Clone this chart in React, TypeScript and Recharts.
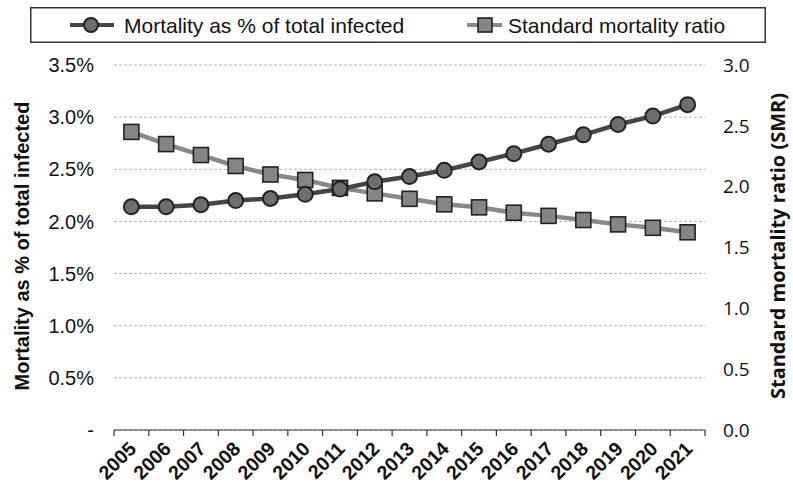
import React from 'react';
import { LineChart, Line, XAxis, YAxis, CartesianGrid, Legend } from 'recharts';

const years = [2005, 2006, 2007, 2008, 2009, 2010, 2011, 2012, 2013, 2014, 2015, 2016, 2017, 2018, 2019, 2020, 2021];
const mortalityPct = [2.14, 2.14, 2.16, 2.2, 2.22, 2.26, 2.31, 2.38, 2.43, 2.49, 2.57, 2.65, 2.74, 2.83, 2.93, 3.01, 3.12];
const smrValues = [2.45, 2.35, 2.26, 2.17, 2.1, 2.055, 1.99, 1.945, 1.9, 1.855, 1.83, 1.786, 1.76, 1.726, 1.69, 1.662, 1.625];
const leftTicks = [0, 0.5, 1, 1.5, 2, 2.5, 3, 3.5];
const rightTicks = [0, 0.5, 1, 1.5, 2, 2.5, 3];
const mortalityName = 'Mortality as % of total infected';
const smrName = 'Standard mortality ratio';
const leftTitle = 'Mortality as % of total infected';
const rightTitle = 'Standard mortality ratio (SMR)';

const data = years.map((year, i) => ({ year, mortality: mortalityPct[i], smr: smrValues[i] }));
const xTicks = [
  ...years,
  ...years.map((y) => y - 0.5),
  years[years.length - 1] + 0.5,
].sort((a, b) => a - b);

const ARIAL = '"Liberation Sans", Arial, sans-serif';
const OPEN = '"Open Sans", "Liberation Sans", sans-serif';

const XTick = (props: any) => {
  const { x, y, payload } = props;
  const v = payload.value;
  if (!Number.isInteger(v)) {
    return <line x1={x} x2={x} y1={y} y2={y + 6} stroke="#333" strokeWidth={1.2} />;
  }
  return (
    <text
      x={0}
      y={0}
      transform={`translate(${x + 6},${y + 20}) rotate(-45)`}
      textAnchor="end"
      fontFamily={ARIAL}
      fontWeight="bold"
      fontSize={19.5}
      fill="#111"
    >
      {v}
    </text>
  );
};

const CircleDot = (props: any) => {
  const { cx, cy, index } = props;
  if (cx == null || cy == null) return null;
  return <circle key={`c-${index}`} cx={cx} cy={cy} r={7.5} fill="#6e6e6e" stroke="#222" strokeWidth={2} />;
};

const SquareDot = (props: any) => {
  const { cx, cy, index } = props;
  if (cx == null || cy == null) return null;
  return (
    <rect key={`s-${index}`} x={cx - 7.5} y={cy - 7.5} width={15} height={15} fill="#858585" stroke="#222" strokeWidth={1.6} />
  );
};

const LeftTitle = () => (
  <text
    x={22}
    y={246}
    transform="rotate(-90 22 246)"
    textAnchor="middle"
    dominantBaseline="central"
    fontFamily={ARIAL}
    fontWeight="bold"
    fontSize={20}
    fill="#111"
  >
    {leftTitle}
  </text>
);

const RightTitle = () => (
  <text
    x={777}
    y={246}
    transform="rotate(-90 777 246)"
    textAnchor="middle"
    dominantBaseline="central"
    fontFamily={OPEN}
    fontWeight="bold"
    fontSize={20}
    fill="#111"
  >
    {rightTitle}
  </text>
);

const renderLegend = () => (
  <svg width={736} height={36} style={{ display: 'block' }}>
    <rect x={0.75} y={0.75} width={734.5} height={34.5} fill="#fff" stroke="#333" strokeWidth={1.5} />
    <line x1={40} x2={84} y1={18} y2={18} stroke="#444" strokeWidth={4} />
    <circle cx={61} cy={18} r={7} fill="#6e6e6e" stroke="#222" strokeWidth={2} />
    <text x={94} y={26} fontFamily={ARIAL} fontSize={21} fill="#111">
      {mortalityName}
    </text>
    <line x1={437} x2={472} y1={18} y2={18} stroke="#888" strokeWidth={4} />
    <rect x={448} y={11} width={14} height={14} fill="#858585" stroke="#222" strokeWidth={1.6} />
    <text x={478} y={26} fontFamily={ARIAL} fontSize={21} fill="#111">
      {smrName}
    </text>
  </svg>
);

export default function App() {
  return (
    <div style={{ position: 'absolute', left: 0, top: 0, width: 793, height: 500, background: '#fff' }}>
      <LineChart width={793} height={500} data={data} margin={{ top: 65, right: 0, bottom: 0, left: 0 }}>
        <CartesianGrid yAxisId="left" vertical={false} stroke="#b5b5b5" strokeDasharray="3 2" />
        <XAxis
          dataKey="year"
          type="number"
          domain={[2004.5, 2021.5]}
          ticks={xTicks}
          interval={0}
          height={70}
          tickSize={0}
          tickMargin={0}
          tickLine={false}
          axisLine={{ stroke: '#333', strokeWidth: 1.2 }}
          tick={<XTick />}
        />
        <YAxis
          yAxisId="left"
          orientation="left"
          domain={[0, 3.5]}
          ticks={leftTicks}
          interval={0}
          width={114}
          axisLine={false}
          tickLine={false}
          tickSize={0}
          tickMargin={20}
          tickFormatter={(v: number) => (v === 0 ? '-' : `${v.toFixed(1)}%`)}
          tick={{ fontSize: 20, fill: '#111', fontFamily: ARIAL }}
          label={<LeftTitle />}
        />
        <YAxis
          yAxisId="right"
          orientation="right"
          domain={[0, 3]}
          ticks={rightTicks}
          interval={0}
          width={88}
          axisLine={false}
          tickLine={false}
          tickSize={0}
          tickMargin={18}
          tickFormatter={(v: number) => v.toFixed(1)}
          tick={{ fontSize: 19, fill: '#111', fontFamily: OPEN }}
          label={<RightTitle />}
        />
        <Legend
          verticalAlign="middle"
          align="center"
          layout="horizontal"
          wrapperStyle={{ top: 7, left: 30, width: 736, height: 36 }}
          content={renderLegend}
        />
        <Line
          yAxisId="right"
          type="linear"
          dataKey="smr"
          name={smrName}
          stroke="#888"
          strokeWidth={4.5}
          dot={<SquareDot />}
          activeDot={false}
          isAnimationActive={false}
        />
        <Line
          yAxisId="left"
          type="linear"
          dataKey="mortality"
          name={mortalityName}
          stroke="#454545"
          strokeWidth={4.5}
          dot={<CircleDot />}
          activeDot={false}
          isAnimationActive={false}
        />
      </LineChart>
    </div>
  );
}
